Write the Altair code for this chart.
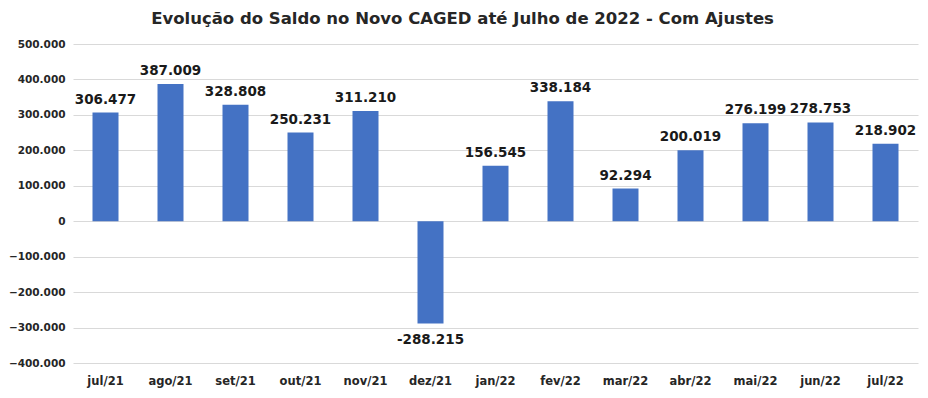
import altair as alt
import pandas as pd

months = ["jul/21", "ago/21", "set/21", "out/21", "nov/21", "dez/21", "jan/22",
          "fev/22", "mar/22", "abr/22", "mai/22", "jun/22", "jul/22"]
saldo = [306477, 387009, 328808, 250231, 311210, -288215, 156545,
         338184, 92294, 200019, 276199, 278753, 218902]
y_ticks = [-400000, -300000, -200000, -100000, 0, 100000, 200000, 300000, 400000, 500000]

df = pd.DataFrame({"mes": months, "saldo": saldo})
df["label"] = [f"{v:,}".replace(",", ".") for v in saldo]

FONT = "DejaVu Sans"

x = alt.X("mes:N", sort=months, title=None,
          scale=alt.Scale(paddingInner=0.6, paddingOuter=0.3),
          axis=alt.Axis(labelAngle=0, labelFont=FONT, labelFontSize=11.5, labelFontWeight="bold",
                        labelColor="#262626", labelPadding=12, ticks=False, domain=False))
y = alt.Y("saldo:Q", title=None,
          scale=alt.Scale(domain=[-400000, 500000], nice=False),
          axis=alt.Axis(values=y_ticks, labelExpr="replace(format(datum.value, ','), ',', '.')",
                        labelFont=FONT, labelFontSize=10.5, labelFontWeight="bold", labelColor="#262626",
                        labelOverlap=False, labelPadding=8, ticks=False, domain=False,
                        gridColor="#d9d9d9", gridWidth=1))

base = alt.Chart(df).encode(x=x, y=y)
bars = base.mark_bar(color="#4472C4")
pos = base.transform_filter("datum.saldo >= 0").mark_text(
    baseline="bottom", dy=-6, font=FONT, fontSize=13.5, fontWeight="bold", color="#1a1a1a"
).encode(text="label:N")
neg = base.transform_filter("datum.saldo < 0").mark_text(
    baseline="top", dy=10, font=FONT, fontSize=13.5, fontWeight="bold", color="#1a1a1a"
).encode(text="label:N")

chart = alt.layer(bars, pos, neg).properties(
    width=845, height=319,
    autosize=alt.AutoSizeParams(type="none"),
    padding={"left": 65, "top": 36, "right": 2, "bottom": 30},
    title=alt.TitleParams("Evolução do Saldo no Novo CAGED até Julho de 2022 - Com Ajustes",
                          font=FONT, fontSize=16.5, fontWeight="bold", color="#262626",
                          anchor="middle", dx=-33, offset=12),
).configure_view(stroke=None)

chart.save("out.html", embed_options={"renderer": "svg", "actions": False})
